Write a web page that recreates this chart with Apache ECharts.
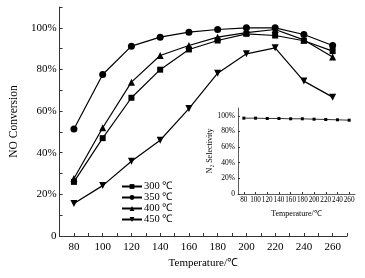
<!DOCTYPE html>
<html>
<head>
<meta charset="utf-8">
<script src="https://cdn.jsdelivr.net/npm/echarts@6/dist/echarts.min.js"></script>
<style>
  html, body { margin: 0; padding: 0; background: #fff; }
  #chart { width: 365px; height: 278px; }
</style>
</head>
<body>
<div id="chart"></div>
<script>
// temperatures (x) and NO conversion (%)
var temps = [80, 100, 120, 140, 160, 180, 200, 220, 240, 260];
var names = ['300 ℃', '350 ℃', '400 ℃', '450 ℃'];
var conv300 = [26.0, 47.0, 66.4, 79.9, 89.6, 93.9, 97.1, 96.3, 93.8, 88.8];
var conv350 = [51.4, 77.6, 91.2, 95.5, 97.9, 99.2, 100, 100, 96.8, 91.5];
var conv400 = [27.6, 52.0, 73.9, 86.7, 91.5, 95.5, 97.7, 99.2, 94.2, 86.0];
var conv450 = [15.6, 24.2, 35.9, 46.0, 61.2, 78.2, 87.5, 90.4, 74.4, 66.7];
// inset: N2 selectivity
var selectivity = [97.0, 97.0, 96.6, 96.6, 96.2, 96.2, 95.7, 95.3, 94.9, 94.4];
var yTicks = [0, 20, 40, 60, 80, 100];
var xMinorTicks = [70, 80, 90, 100, 110, 120, 130, 140, 150, 160, 170, 180, 190, 200, 210, 220, 230, 240, 250, 260, 270];
var yMinorTicks = [0, 10, 20, 30, 40, 50, 60, 70, 80, 90, 100, 110];

var chart = echarts.init(document.getElementById('chart'));
var font = 'Liberation Serif, Times New Roman, serif';
var axisColor = '#333';

function pairs(vals) {
    return temps.map(function (t, i) { return [t, vals[i]]; });
}
function pct(v) {
    return v === 0 ? '0' : v + '%';
}

var lineStyle = {color: '#000', width: 1.2};
var itemStyle = {color: '#000'};

var option = {
    animation: false,
    backgroundColor: '#fff',
    textStyle: {fontFamily: font, color: '#000'},
    grid: [
        {left: 48, right: 18, top: 7, bottom: 42},
        {left: 238, right: 10, top: 108, bottom: 84}
    ],
    legend: {
        orient: 'vertical',
        left: 121,
        top: 181,
        padding: 0,
        itemWidth: 20,
        itemHeight: 6,
        itemGap: 0,
        data: names,
        textStyle: {fontFamily: font, fontSize: 10.5, color: '#000', lineHeight: 9, height: 9, padding: [0, 0, 0, -3]}
    },
    xAxis: [
        {
            type: 'value',
            gridIndex: 0,
            min: 70,
            max: 270,
            name: 'Temperature/℃',
            nameLocation: 'middle',
            nameGap: 22,
            nameTextStyle: {fontFamily: font, fontSize: 11, color: '#000'},
            splitLine: {show: false},
            axisLine: {lineStyle: {color: axisColor, width: 1}},
            axisTick: {inside: true, length: 3, lineStyle: {color: axisColor}, customValues: xMinorTicks},
            axisLabel: {
                fontFamily: font, fontSize: 11, color: '#000', margin: 6,
                customValues: temps
            }
        },
        {
            type: 'value',
            gridIndex: 1,
            min: 70,
            max: 270,
            name: 'Temperature/℃',
            nameLocation: 'middle',
            nameGap: 16,
            nameTextStyle: {fontFamily: font, fontSize: 8, color: '#000'},
            splitLine: {show: false},
            axisLine: {lineStyle: {color: axisColor, width: 0.8}},
            axisTick: {inside: true, length: 2, lineStyle: {color: axisColor}, customValues: temps},
            axisLabel: {fontFamily: font, fontSize: 7.2, color: '#000', margin: 3, customValues: temps}
        }
    ],
    yAxis: [
        {
            type: 'value',
            gridIndex: 0,
            min: 0,
            max: 110,
            name: 'NO Conversion',
            nameLocation: 'middle',
            nameGap: 35,
            nameTextStyle: {fontFamily: font, fontSize: 11.5, color: '#000'},
            splitLine: {show: false},
            axisLine: {lineStyle: {color: axisColor, width: 1}},
            axisTick: {inside: true, length: 3, lineStyle: {color: axisColor}, customValues: yMinorTicks},
            axisLabel: {
                fontFamily: font, fontSize: 11, color: '#000', margin: 3,
                customValues: yTicks,
                formatter: pct
            }
        },
        {
            type: 'value',
            gridIndex: 1,
            min: 0,
            max: 110,
            name: 'N₂ Selectivity',
            nameLocation: 'middle',
            nameGap: 24,
            nameTextStyle: {fontFamily: font, fontSize: 8, color: '#000'},
            splitLine: {show: false},
            axisLine: {lineStyle: {color: axisColor, width: 0.8}},
            axisTick: {inside: true, length: 2, lineStyle: {color: axisColor}, customValues: yTicks},
            axisLabel: {
                fontFamily: font, fontSize: 7.5, color: '#000', margin: 3,
                customValues: yTicks,
                formatter: pct
            }
        }
    ],
    series: [
        {
            name: names[0], type: 'line', xAxisIndex: 0, yAxisIndex: 0,
            symbol: 'rect', symbolSize: 6, showAllSymbol: true,
            lineStyle: lineStyle, itemStyle: itemStyle,
            data: pairs(conv300)
        },
        {
            name: names[1], type: 'line', xAxisIndex: 0, yAxisIndex: 0,
            symbol: 'circle', symbolSize: 7, showAllSymbol: true,
            lineStyle: lineStyle, itemStyle: itemStyle,
            data: pairs(conv350)
        },
        {
            name: names[2], type: 'line', xAxisIndex: 0, yAxisIndex: 0,
            symbol: 'triangle', symbolSize: 7, showAllSymbol: true,
            lineStyle: lineStyle, itemStyle: itemStyle,
            data: pairs(conv400)
        },
        {
            name: names[3], type: 'line', xAxisIndex: 0, yAxisIndex: 0,
            symbol: 'triangle', symbolRotate: 180, symbolSize: 7, showAllSymbol: true,
            lineStyle: lineStyle, itemStyle: itemStyle,
            data: pairs(conv450)
        },
        {
            name: 'N2', type: 'line', xAxisIndex: 1, yAxisIndex: 1,
            symbol: 'rect', symbolSize: 3, showAllSymbol: true,
            lineStyle: {color: '#000', width: 0.8}, itemStyle: itemStyle,
            data: pairs(selectivity)
        }
    ]
};

chart.setOption(option);
window.addEventListener('resize', function () {
    chart.resize();
});
</script>
</body>
</html>
